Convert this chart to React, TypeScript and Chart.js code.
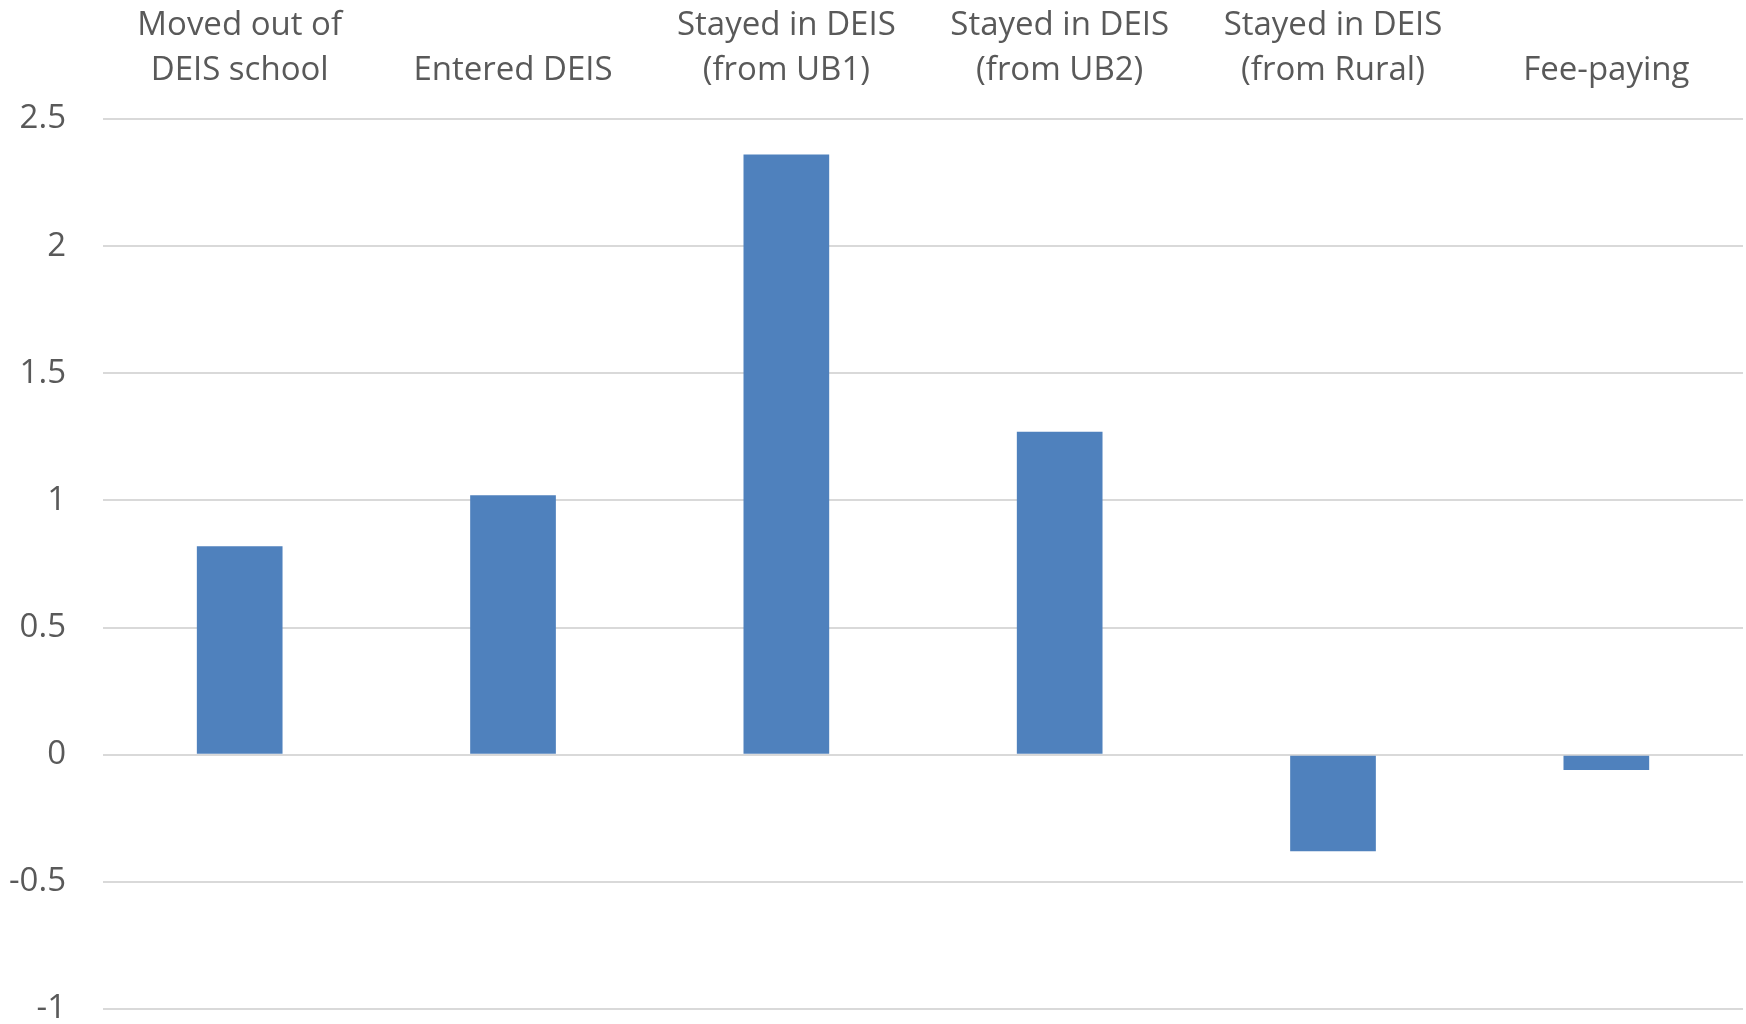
import React, { useEffect, useRef } from "react";
import { Chart, registerables } from "chart.js";

Chart.register(...registerables);

// Category labels, each split over the lines they are drawn on
const categories: string[][] = [
  ["Moved out of", "DEIS school"],
  ["Entered DEIS"],
  ["Stayed in DEIS", "(from UB1)"],
  ["Stayed in DEIS", "(from UB2)"],
  ["Stayed in DEIS", "(from Rural)"],
  ["Fee-paying"],
];

// Effect estimate per school transition group
const effects: number[] = [0.82, 1.02, 2.36, 1.27, -0.38, -0.06];

// Value axis range and step
const yMin = -1;
const yMax = 2.5;
const yStep = 0.5;

const FONT = "'Open Sans', 'Noto Sans', sans-serif";
const TEXT = "#595959";
const CLEAR = "rgba(0,0,0,0)";

export default function App() {
  const canvasRef = useRef<HTMLCanvasElement | null>(null);

  useEffect(() => {
    const canvas = canvasRef.current;
    if (!canvas) return;
    const chart = new Chart(canvas, {
      type: "bar",
      data: {
        labels: categories,
        datasets: [
          {
            data: effects,
            backgroundColor: "#4f81bd",
            borderWidth: 0,
            barPercentage: 0.3135,
            categoryPercentage: 1,
          },
        ],
      },
      options: {
        animation: false,
        responsive: false,
        maintainAspectRatio: false,
        layout: { padding: { left: 9, right: 3, top: -23, bottom: 15 } },
        plugins: {
          legend: { display: false },
          tooltip: { enabled: false },
        },
        scales: {
          x: {
            position: "top",
            grid: { display: false, drawTicks: false },
            border: { display: false },
            ticks: {
              color: TEXT,
              padding: 26,
              maxRotation: 0,
              autoSkip: false,
              font: { family: FONT, size: 33, lineHeight: 1.364 },
            },
          },
          y: {
            min: yMin,
            max: yMax,
            grid: {
              color: "#d9d9d9",
              lineWidth: 2,
              drawTicks: true,
              tickLength: 37,
              tickColor: CLEAR,
            },
            border: { display: false },
            ticks: {
              stepSize: yStep,
              color: TEXT,
              padding: 0,
              font: { family: FONT, size: 33, lineHeight: 0.85 },
              callback: (v: number | string) => String(Number(v)),
            },
          },
        },
      },
    });
    return () => chart.destroy();
  }, []);

  return (
    <div style={{ position: "fixed", left: 0, top: 0, width: 1746, height: 1024, background: "#fff" }}>
      <canvas ref={canvasRef} width={1746} height={1024} />
    </div>
  );
}
